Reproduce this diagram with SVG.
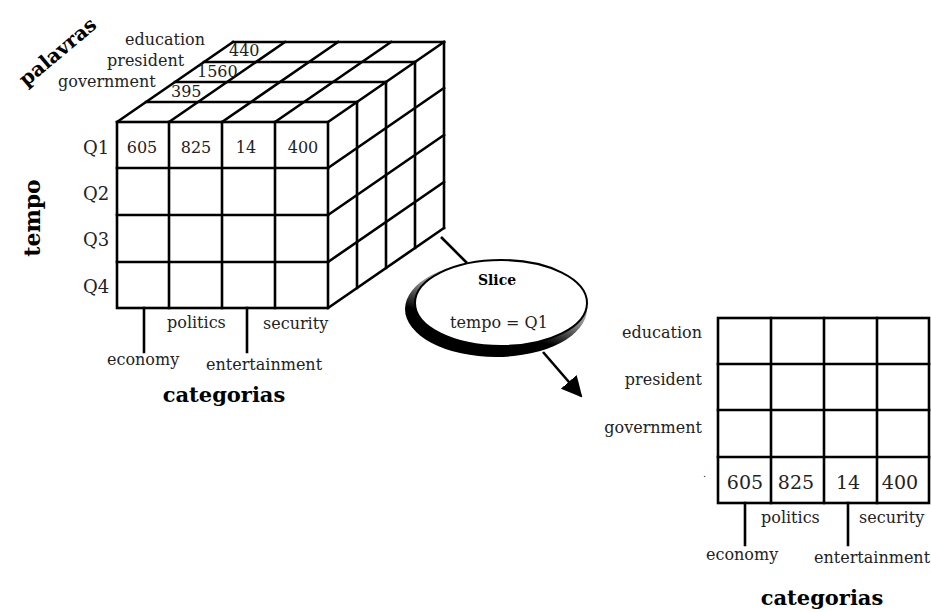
<svg xmlns="http://www.w3.org/2000/svg" width="931" height="612" viewBox="0 0 931 612">
<style>
.ln{stroke:#000;stroke-width:2.6;fill:none;stroke-linecap:square}
.t{font-family:"DejaVu Serif","Liberation Serif",serif;font-size:16px;fill:#222}
.b{font-family:"DejaVu Serif","Liberation Serif",serif;font-weight:bold;fill:#000}
.n{font-family:"DejaVu Serif","Liberation Serif",serif;font-size:16px;fill:#222;text-anchor:middle}
</style>
<defs>
<linearGradient id="sh" x1="0.75" y1="0" x2="0.25" y2="1">
<stop offset="0" stop-color="#fff"/>
<stop offset="0.45" stop-color="#888"/>
<stop offset="0.68" stop-color="#000"/>
<stop offset="1" stop-color="#000"/>
</linearGradient>
<marker id="ah" viewBox="0 0 10 10" refX="9" refY="5" markerWidth="8" markerHeight="8" orient="auto" markerUnits="strokeWidth">
<path d="M0,0 L10,5 L0,10 z" fill="#000"/>
</marker>
</defs>
<rect width="931" height="612" fill="#fff"/>

<g id="cube">
<path class="ln" d="M146,102 H357 M175,82 H386 M204,62 H415 M233,42 H444"/>
<path class="ln" d="M117,122 L233,42 M169,122 L285,42 M222,122 L338,42 M275,122 L391,42 M328,122 L444,42"/>
<path class="ln" d="M357,102 V288 M386,82 V268 M415,62 V248 M444,42 V228"/>
<path class="ln" d="M328,168 L444,88 M328,215 L444,135 M328,262 L444,182 M328,308 L444,228"/>
<rect class="ln" x="117" y="122" width="211" height="186" fill="#fff"/>
<path class="ln" d="M169,122 V308 M222,122 V308 M275,122 V308 M117,168 H328 M117,215 H328 M117,262 H328"/>
<path class="ln" d="M144,308 V352 M247,308 V352"/>
</g>

<g id="cube-labels">
<text class="t" x="125" y="45">education</text>
<text class="t" x="107" y="66">president</text>
<text class="t" x="58" y="87">government</text>
<text class="t" x="229" y="56">440</text>
<text class="t" x="197" y="77">1560</text>
<text class="t" x="171" y="97">395</text>
<text class="t" x="83" y="154" style="font-size:18px">Q1</text>
<text class="t" x="83" y="200" style="font-size:18px">Q2</text>
<text class="t" x="83" y="246" style="font-size:18px">Q3</text>
<text class="t" x="83" y="293" style="font-size:18px">Q4</text>
<text class="n" x="142" y="153">605</text>
<text class="n" x="196" y="153">825</text>
<text class="n" x="246" y="153">14</text>
<text class="n" x="303" y="153">400</text>
<text class="t" x="167" y="328">politics</text>
<text class="t" x="263" y="329">security</text>
<text class="t" x="107" y="365">economy</text>
<text class="t" x="206" y="370">entertainment</text>
<text class="b" x="224" y="402" text-anchor="middle" style="font-size:21px">categorias</text>
<text class="b" x="0" y="0" text-anchor="middle" style="font-size:22px" transform="translate(40,218) rotate(-90)">tempo</text>
<text class="b" x="0" y="0" text-anchor="middle" style="font-size:20px" transform="translate(62,57) rotate(-40)">palavras</text>
</g>

<g id="connectors">
<line x1="441" y1="237" x2="467" y2="263" stroke="#000" stroke-width="2.6"/>
<line x1="543" y1="352" x2="581" y2="396" stroke="#000" stroke-width="2.6" marker-end="url(#ah)"/>
</g>

<g id="slice">
<ellipse cx="496" cy="309" rx="91" ry="48" fill="url(#sh)"/>
<ellipse cx="501" cy="303" rx="86" ry="43" fill="#fff" stroke="#000" stroke-width="2"/>
<text class="b" x="497" y="285" text-anchor="middle" style="font-size:14px">Slice</text>
<text class="n" x="499" y="328">tempo = Q1</text>
</g>

<g id="table">
<rect class="ln" x="718" y="318" width="211" height="185" fill="#fff"/>
<path class="ln" d="M771,318 V503 M824,318 V503 M877,318 V503 M718,364 H929 M718,410 H929 M718,457 H929"/>
<path class="ln" d="M745,503 V545 M848,503 V545"/>
</g>

<g id="table-labels">
<text class="t" x="702" y="338" text-anchor="end">education</text>
<text class="t" x="702" y="385" text-anchor="end">president</text>
<text class="t" x="702" y="433" text-anchor="end">government</text>
<text class="t" x="703" y="477" style="font-size:10px">.</text>
<text class="n" x="745" y="489" style="font-size:19px">605</text>
<text class="n" x="796" y="489" style="font-size:19px">825</text>
<text class="n" x="848" y="489" style="font-size:19px">14</text>
<text class="n" x="900" y="489" style="font-size:19px">400</text>
<text class="t" x="761" y="523">politics</text>
<text class="t" x="859" y="523">security</text>
<text class="t" x="706" y="560">economy</text>
<text class="t" x="814" y="563">entertainment</text>
<text class="b" x="822" y="605" text-anchor="middle" style="font-size:21px">categorias</text>
</g>
</svg>
